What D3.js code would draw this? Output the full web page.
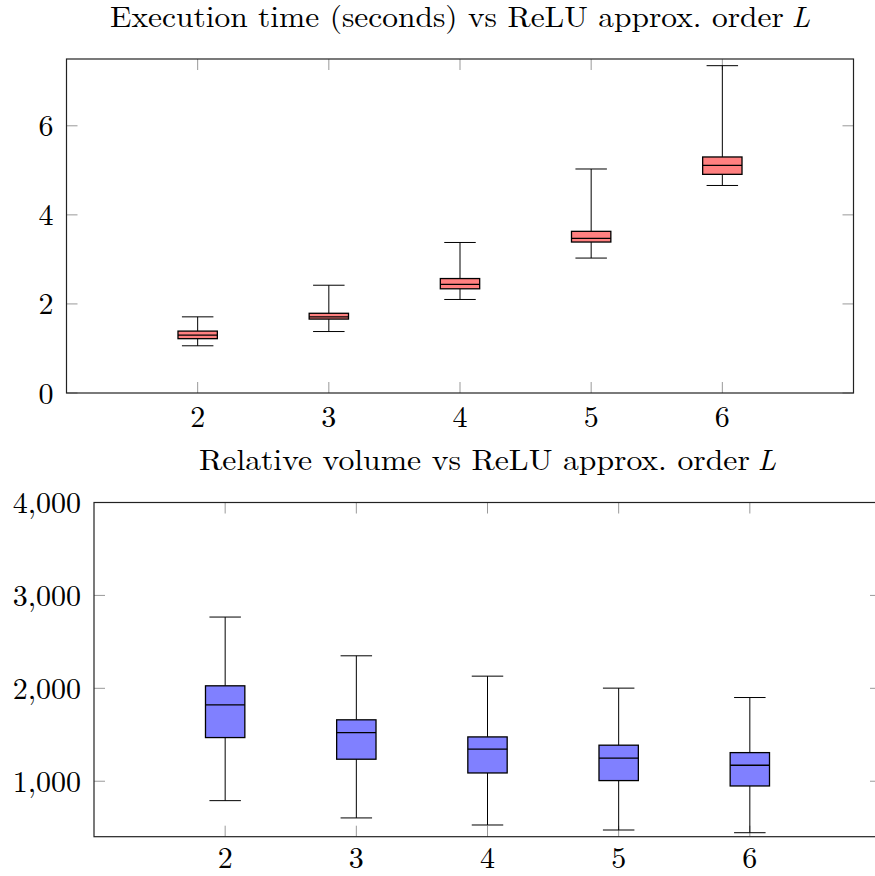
<!DOCTYPE html>
<html>
<head>
<meta charset="utf-8">
<script src="https://cdn.jsdelivr.net/npm/d3@7"></script>
<style>
  html, body { margin: 0; padding: 0; background: #fff; }
  svg { display: block; }
  text { font-family: "Latin Modern Roman", "Liberation Serif", "DejaVu Serif", serif; fill: #000; }
</style>
</head>
<body>
<svg id="chart" width="875" height="876"></svg>
<script>
// Approximation order L (shared x categories)
const orders = [2, 3, 4, 5, 6];

// Execution time (seconds) five-number summaries
const timeLowerWhisker  = [1.06, 1.38, 2.10, 3.03, 4.66];
const timeLowerQuartile = [1.22, 1.66, 2.34, 3.39, 4.91];
const timeMedian        = [1.30, 1.71, 2.44, 3.47, 5.11];
const timeUpperQuartile = [1.39, 1.79, 2.57, 3.63, 5.30];
const timeUpperWhisker  = [1.71, 2.42, 3.38, 5.03, 7.35];

// Relative volume five-number summaries
const volLowerWhisker  = [791, 605, 529, 475, 446];
const volLowerQuartile = [1470, 1237, 1089, 1007, 949];
const volMedian        = [1822, 1524, 1345, 1248, 1172];
const volUpperQuartile = [2027, 1661, 1477, 1388, 1308];
const volUpperWhisker  = [2767, 2350, 2131, 2002, 1901];

// Axis ticks
const timeTicks = [0, 2, 4, 6];
const volTicks  = [1000, 2000, 3000, 4000];

const svg = d3.select("#chart");
const fmtComma = d3.format(",");
const fontSize = 29;

function boxplot(cfg) {
  const g = svg.append("g");
  const x = d3.scaleLinear().domain([1, 7]).range([cfg.left, cfg.right]);
  const y = d3.scaleLinear().domain(cfg.yDomain).range([cfg.bottom, cfg.top]);
  const unit = x(2) - x(1);
  const boxW = 0.3 * unit;
  const capW = 0.24 * unit;
  const tickLen = 11;

  // Title: upright words followed by an italic symbol L
  const cx0 = (cfg.left + cfg.right) / 2;
  const startX = cx0 - cfg.titleWidth / 2;
  const endX = cx0 + cfg.titleWidth / 2;
  const sym = g.append("text")
    .attr("x", endX).attr("y", cfg.titleY)
    .attr("text-anchor", "end")
    .attr("font-size", fontSize)
    .attr("font-style", "italic")
    .text("L");
  const symW = sym.node().getComputedTextLength();
  g.append("text")
    .attr("x", startX).attr("y", cfg.titleY)
    .attr("text-anchor", "start")
    .attr("font-size", fontSize)
    .attr("textLength", cfg.titleWidth - symW - 8)
    .attr("lengthAdjust", "spacingAndGlyphs")
    .text(cfg.title);

  // Tick marks on all four sides
  const ticks = g.append("g").attr("stroke", "#999").attr("stroke-width", 1);
  orders.forEach(o => {
    ticks.append("line").attr("x1", x(o)).attr("x2", x(o)).attr("y1", cfg.bottom).attr("y2", cfg.bottom - tickLen);
    ticks.append("line").attr("x1", x(o)).attr("x2", x(o)).attr("y1", cfg.top).attr("y2", cfg.top + tickLen);
  });
  cfg.yTicks.forEach(t => {
    ticks.append("line").attr("x1", cfg.left).attr("x2", cfg.left + tickLen).attr("y1", y(t)).attr("y2", y(t));
    ticks.append("line").attr("x1", cfg.right).attr("x2", cfg.right - tickLen).attr("y1", y(t)).attr("y2", y(t));
  });

  // Tick labels
  g.append("g").selectAll("text").data(orders).join("text")
    .attr("x", d => x(d)).attr("y", cfg.xLabelY)
    .attr("text-anchor", "middle").attr("font-size", fontSize + 1)
    .text(d => d);
  g.append("g").selectAll("text").data(cfg.yTicks).join("text")
    .attr("x", cfg.left - 13).attr("y", d => y(d))
    .attr("dy", "0.35em")
    .attr("text-anchor", "end").attr("font-size", fontSize + 1)
    .text(d => cfg.fmt(d));

  // Boxes and whiskers
  const s = cfg.stats;
  const marks = g.append("g");
  orders.forEach((o, i) => {
    const cx = x(o);
    const w = marks.append("g").attr("stroke", "#000").attr("stroke-width", 1);
    w.append("line").attr("x1", cx).attr("x2", cx).attr("y1", y(s.uq[i])).attr("y2", y(s.uw[i]));
    w.append("line").attr("x1", cx).attr("x2", cx).attr("y1", y(s.lq[i])).attr("y2", y(s.lw[i]));
    w.append("line").attr("x1", cx - capW / 2).attr("x2", cx + capW / 2).attr("y1", y(s.uw[i])).attr("y2", y(s.uw[i]));
    w.append("line").attr("x1", cx - capW / 2).attr("x2", cx + capW / 2).attr("y1", y(s.lw[i])).attr("y2", y(s.lw[i]));
    marks.append("rect")
      .attr("x", cx - boxW / 2).attr("width", boxW)
      .attr("y", y(s.uq[i])).attr("height", y(s.lq[i]) - y(s.uq[i]))
      .attr("fill", cfg.fill).attr("stroke", "#000").attr("stroke-width", 1.3);
    marks.append("line")
      .attr("x1", cx - boxW / 2).attr("x2", cx + boxW / 2)
      .attr("y1", y(s.med[i])).attr("y2", y(s.med[i]))
      .attr("stroke", "#000").attr("stroke-width", 1.3);
  });

  // Axis frame
  g.append("rect")
    .attr("x", cfg.left).attr("y", cfg.top)
    .attr("width", cfg.right - cfg.left).attr("height", cfg.bottom - cfg.top)
    .attr("fill", "none").attr("stroke", "#222").attr("stroke-width", 1.2);
}

boxplot({
  title: "Execution time (seconds) vs ReLU approx. order",
  titleY: 27, titleWidth: 700,
  left: 66.5, right: 853.5, top: 59, bottom: 393,
  yDomain: [0, 7.5], yTicks: timeTicks, fmt: d => d,
  xLabelY: 427,
  fill: "#ff8080",
  stats: { lw: timeLowerWhisker, lq: timeLowerQuartile, med: timeMedian, uq: timeUpperQuartile, uw: timeUpperWhisker }
});

boxplot({
  title: "Relative volume vs ReLU approx. order",
  titleY: 470, titleWidth: 577,
  left: 94, right: 881, top: 502.5, bottom: 836.7,
  yDomain: [403, 4000], yTicks: volTicks, fmt: fmtComma,
  xLabelY: 868,
  fill: "#8080ff",
  stats: { lw: volLowerWhisker, lq: volLowerQuartile, med: volMedian, uq: volUpperQuartile, uw: volUpperWhisker }
});
</script>
</body>
</html>
